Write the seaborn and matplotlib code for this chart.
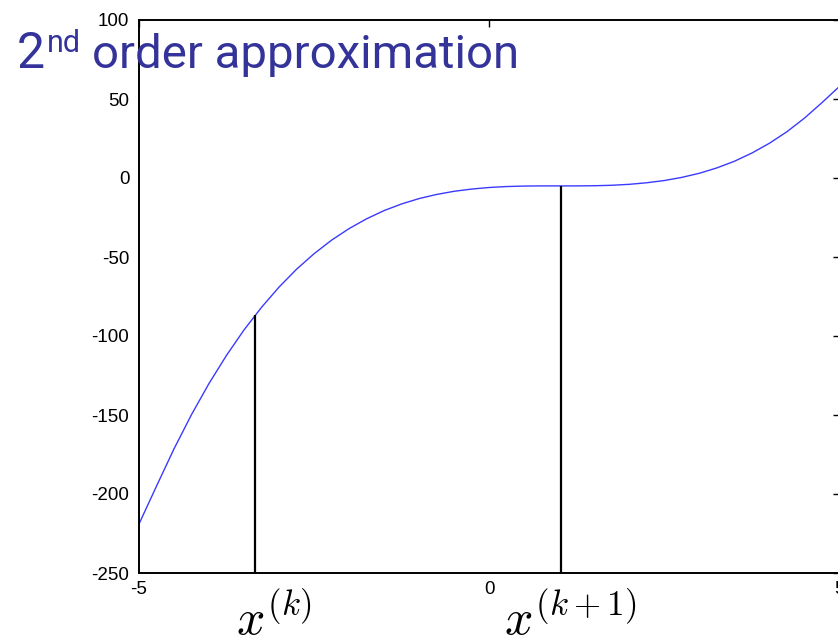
import matplotlib
matplotlib.use("Agg")
import matplotlib.pyplot as plt
import seaborn as sns
import pandas as pd

# ---- data ----
x_vals = [-5.0, -4.75, -4.5, -4.25, -4.0, -3.75, -3.5, -3.25, -3.0, -2.75,
          -2.5, -2.25, -2.0, -1.75, -1.5, -1.25, -1.0, -0.75, -0.5, -0.25,
          0.0, 0.25, 0.5, 0.75, 1.0, 1.25, 1.5, 1.75, 2.0, 2.25,
          2.5, 2.75, 3.0, 3.25, 3.5, 3.75, 4.0, 4.25, 4.5, 4.75, 5.0]
y_vals = [-219, -195, -171.4, -149.7, -130, -112.2, -96.1, -81.8, -69, -57.7,
          -47.9, -39.3, -32, -25.8, -20.6, -16.4, -13, -10.4, -8.4, -7.0,
          -6, -5.4, -5.1, -5.0, -5, -5.0, -4.9, -4.6, -4, -3.0,
          -1.6, 0.4, 3, 6.4, 10.6, 15.8, 22, 29.3, 37.9, 47.7, 58]
iter_x = [-3.35, 1.02]          # x^(k), x^(k+1)
iter_y = [-86.5, -5.0]          # curve value at those points
iter_labels = [r"$x^{(k)}$", r"$x^{(k+1)}$"]
x_ticks = [-5, 0, 5]
y_ticks = [-250, -200, -150, -100, -50, 0, 50, 100]
title_main = "2"
title_sup = "nd"
title_rest = "order approximation"

df = pd.DataFrame({"x": x_vals, "y": y_vals})

sns.set_style("white")
plt.rcParams["font.family"] = ["Liberation Sans", "DejaVu Sans"]
plt.rcParams["mathtext.fontset"] = "cm"
plt.rcParams["axes.unicode_minus"] = False

W, H, DPI = 838, 639, 100
fig = plt.figure(figsize=(W / DPI, H / DPI), dpi=DPI)
ax = fig.add_axes([139 / W, 1 - 573 / H, (839.5 - 139) / W, (573 - 20) / H])

sns.lineplot(data=df, x="x", y="y", ax=ax, color="#3a3aff", linewidth=1.0)
ax.vlines(iter_x, -250, iter_y, colors="black", linewidth=1.6)

ax.set_xlim(-5, 5)
ax.set_ylim(-250, 100)
ax.set_xticks(x_ticks)
ax.set_yticks(y_ticks)
ax.set_xlabel("")
ax.set_ylabel("")
ax.tick_params(direction="in", length=5, width=1.0, color="black",
               top=True, right=True, labelsize=13.5, labelcolor="black")
ax.tick_params(axis="y", pad=7)
ax.tick_params(axis="x", pad=6)
for s in ax.spines.values():
    s.set_visible(True)
    s.set_color("black")
    s.set_linewidth(1.4)

# iterate labels below the axis
offsets = [(-19, -62), (-57, -62)]
for xv, lab, off in zip(iter_x, iter_labels, offsets):
    ax.annotate(lab, xy=(xv, -250), xycoords="data", xytext=off,
                textcoords="offset pixels", ha="left", va="baseline",
                fontsize=36, color="black", annotation_clip=False)

# title pieces (overlapping the axes like the reference)
tcol = "#333399"
tfam = ["Roboto", "DejaVu Sans"]
fig.text(17 / W, 1 - 68 / H, title_main, color=tcol, fontsize=36,
         ha="left", va="baseline", family=tfam)
fig.text(47 / W, 1 - 52 / H, title_sup, color=tcol, fontsize=22,
         ha="left", va="baseline", family=tfam)
t3 = fig.text(92 / W, 1 - 68 / H, title_rest, color=tcol, fontsize=36,
              ha="left", va="baseline", family=tfam)
# fit the long part to the reference width (92..519 px)
fig.canvas.draw()
wpx = t3.get_window_extent().width
t3.set_fontsize(36 * (519 - 92) / wpx)

fig.savefig("out.png", dpi=DPI)
